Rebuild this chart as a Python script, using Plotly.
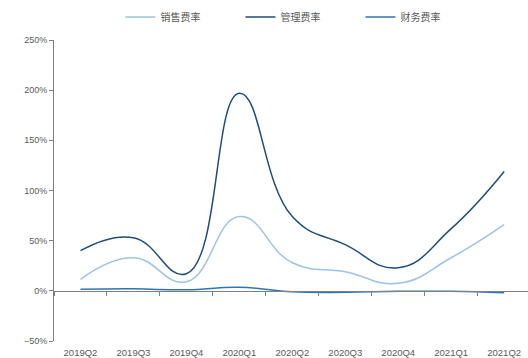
import plotly.graph_objects as go

quarters = ["2019Q2", "2019Q3", "2019Q4", "2020Q1", "2020Q2",
            "2020Q3", "2020Q4", "2021Q1", "2021Q2"]
sales_rate = [11.5, 33, 9, 74, 28, 19, 7.5, 33, 66]
admin_rate = [40, 53, 17, 197, 74, 46, 23, 62, 119]
finance_rate = [1.5, 2, 1, 3.5, -1, -1.5, -0.5, -0.5, -2]

series = [
    ("销售费率", sales_rate, "#9DC3E6"),
    ("管理费率", admin_rate, "#1F4E79"),
    ("财务费率", finance_rate, "#2E75B6"),
]

fig = go.Figure()
for name, vals, color in series:
    fig.add_trace(go.Scatter(
        x=quarters, y=vals, name=name, mode="lines",
        line=dict(color=color, width=1.5, shape="spline", smoothing=1.3),
    ))

# invisible helper trace so the zero-line axis (xaxis2) is drawn
fig.add_trace(go.Scatter(x=quarters, y=[None] * len(quarters), xaxis="x2",
                         showlegend=False, hoverinfo="skip"))

grey = "#595959"
fig.update_layout(
    width=528, height=358,
    margin=dict(l=54, r=0, t=40, b=17, autoexpand=False),
    paper_bgcolor="white", plot_bgcolor="white",
    font=dict(family="Liberation Sans, Arial, sans-serif", size=9, color=grey),
    showlegend=True,
    legend=dict(
        orientation="h", x=0.52, xanchor="center",
        yref="container", y=1 - 17 / 358, yanchor="middle",
        font=dict(family="Noto Sans CJK SC", size=10, color=grey),
        entrywidth=75, entrywidthmode="pixels", itemwidth=30,
    ),
    xaxis=dict(
        type="category", range=[-0.5, 8.45],
        showline=False, showgrid=False, zeroline=False,
        ticks="outside", ticklen=3, tickcolor="rgba(0,0,0,0)",
        tickfont=dict(size=9.5, color=grey),
    ),
    xaxis2=dict(
        type="category", range=[-0.5, 8.45], overlaying="x",
        anchor="free", position=1 / 6,
        showline=True, linecolor="#808080", linewidth=1,
        ticks="outside", tickson="boundaries", ticklen=4, tickcolor="#808080",
        showticklabels=False, showgrid=False, zeroline=False,
    ),
    yaxis=dict(
        range=[-50, 250], dtick=50, ticksuffix="%",
        showline=True, linecolor="#808080", linewidth=1,
        ticks="outside", ticklen=4, tickcolor="#808080",
        showgrid=False, zeroline=False,
        tickfont=dict(size=9, color=grey),
    ),
)

fig.write_html("out.html")
